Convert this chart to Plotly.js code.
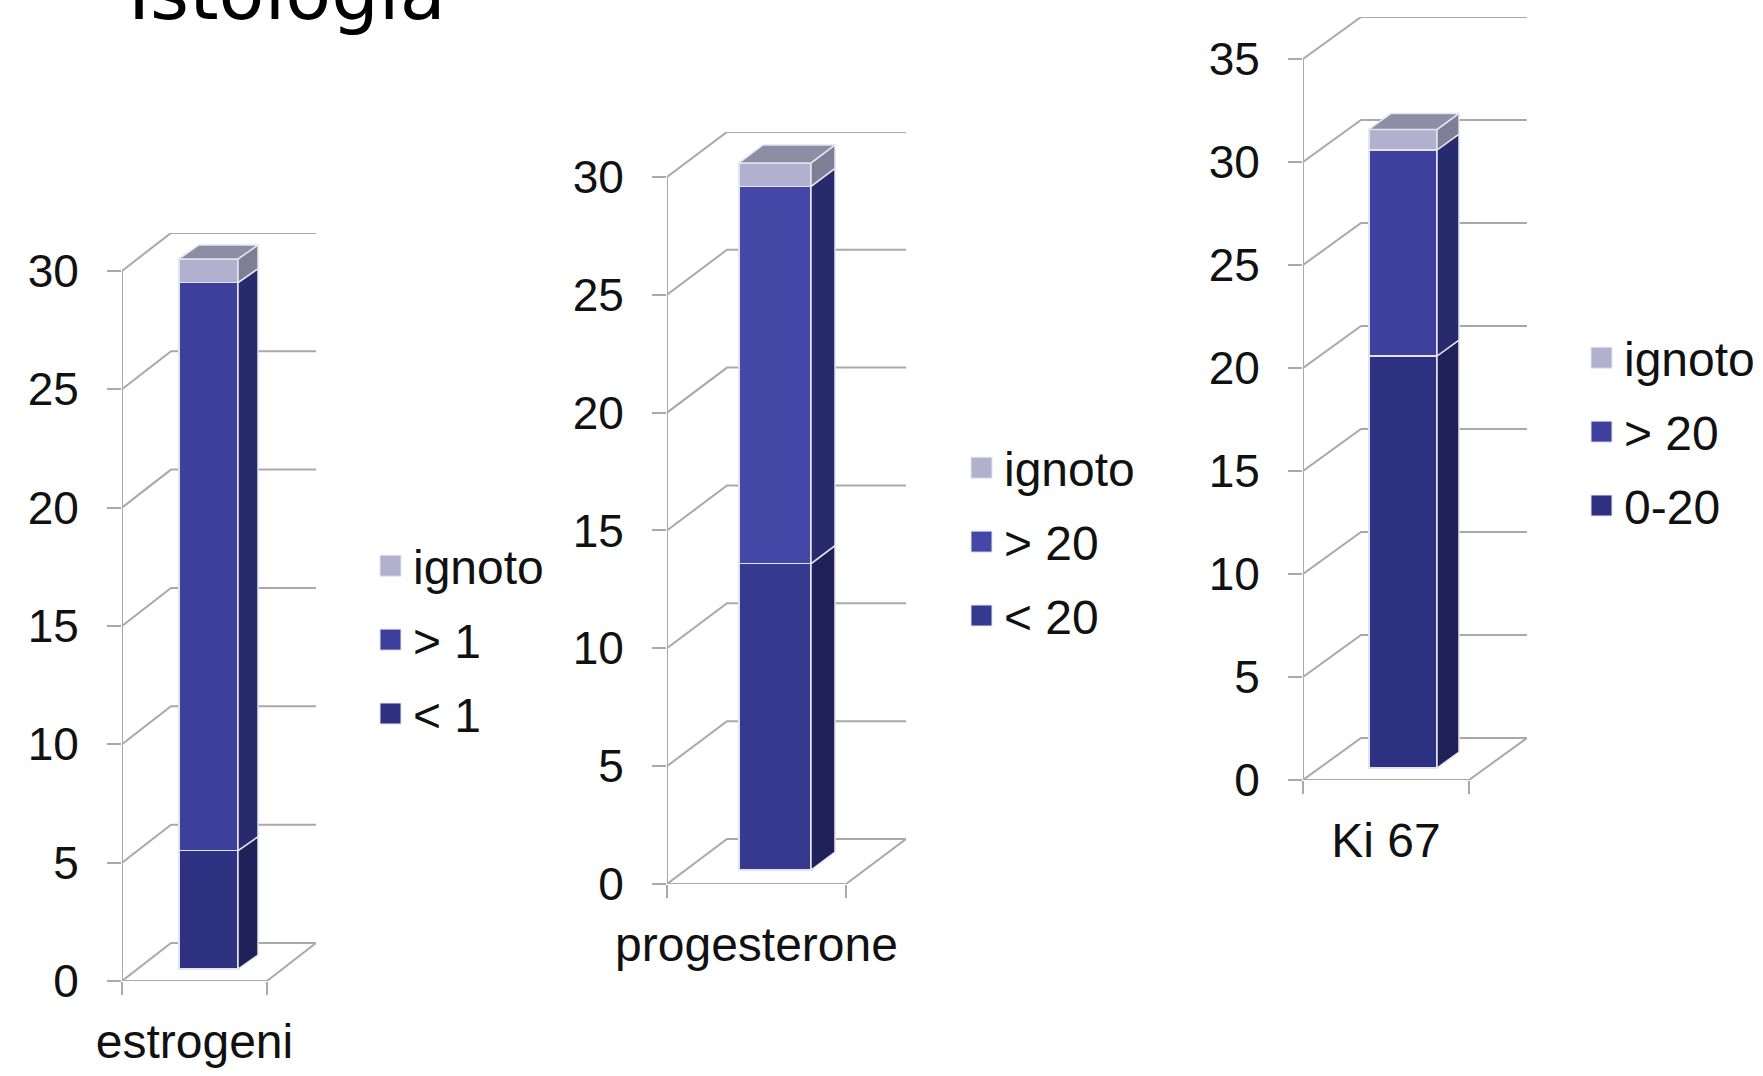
<!DOCTYPE html>
<html>
<head>
<meta charset="utf-8">
<script src="https://cdn.plot.ly/plotly-3.0.1.min.js"></script>
<style>
html, body { margin: 0; padding: 0; background: #ffffff; }
#chart { width: 1763px; height: 1076px; }
</style>
</head>
<body>
<div id="chart"></div>
<script>
// ---------------- data ----------------
const chartTitle = 'Istologia';
const categories = ['estrogeni', 'progesterone', 'Ki 67'];

const estrogeniLabels = ['< 1', '> 1', 'ignoto'];
const estrogeniValues = [5, 24, 1];

const progesteroneLabels = ['< 20', '> 20', 'ignoto'];
const progesteroneValues = [13, 16, 1];

const ki67Labels = ['0-20', '> 20', 'ignoto'];
const ki67Values = [20, 10, 1];

const estrogeniTicks = [0, 5, 10, 15, 20, 25, 30];
const progesteroneTicks = [0, 5, 10, 15, 20, 25, 30];
const ki67Ticks = [0, 5, 10, 15, 20, 25, 30, 35];

// ---------------- styling / geometry (pixels) ----------------
const W = 1763, H = 1076;
const FONT = '"Liberation Sans", Arial, Helvetica, sans-serif';
const GRID = '#a9a9a9';
const EDGE = '#e4e4ee';

const frontColors = [
  ['#2e3182', '#3c3f9c', '#b1b1cf'],
  ['#353a8e', '#4347a6', '#b1b1cf'],
  ['#2e3182', '#3d409c', '#b1b1cf']
];
const sideColors = ['#1f2159', '#272a6d', '#7e7e97'];
const topColor = '#8d8da3';

const geos = [
  { ox: 122, oy: 981, floorW: 145, unit: 23.67, dx: 49, dy: -38, bx0: 179, bx1: 238, lift: 12, sx: 20, sy: -14,
    legX: 373, legY: 528 },
  { ox: 667, oy: 884, floorW: 179, unit: 23.57, dx: 60, dy: -45, bx0: 739, bx1: 811, lift: 14, sx: 24, sy: -18,
    legX: 964, legY: 430 },
  { ox: 1303, oy: 780, floorW: 166, unit: 20.6, dx: 58, dy: -42, bx0: 1369, bx1: 1437, lift: 12, sx: 22, sy: -16,
    legX: 1584, legY: 320 }
];

const seriesLabels = [estrogeniLabels, progesteroneLabels, ki67Labels];
const seriesValues = [estrogeniValues, progesteroneValues, ki67Values];
const tickSets = [estrogeniTicks, progesteroneTicks, ki67Ticks];

const traces = [];
const layout = {
  width: W, height: H,
  margin: { l: 0, r: 0, t: 0, b: 0 },
  paper_bgcolor: '#ffffff', plot_bgcolor: 'rgba(0,0,0,0)',
  barmode: 'stack',
  showlegend: true,
  hovermode: false,
  font: { family: FONT, size: 45, color: '#111111' },
  annotations: [{
    text: chartTitle, xref: 'paper', yref: 'paper',
    x: 127 / W, y: 1 - 38 / H, xanchor: 'left', yanchor: 'bottom',
    showarrow: false, borderpad: 0,
    font: { family: '"DejaVu Sans", sans-serif', size: 75, color: '#000000' }
  }]
};

for (let i = 0; i < 3; i++) {
  const g = geos[i];
  const ticks = tickSets[i];
  const vals = seriesValues[i];
  const labs = seriesLabels[i];
  const ymax = ticks[ticks.length - 1];
  const n = i + 1;
  const xa = n === 1 ? 'x' : 'x' + n;
  const ya = n === 1 ? 'y' : 'y' + n;
  const yb = 'y' + (n + 3);
  const xKey = n === 1 ? 'xaxis' : 'xaxis' + n;
  const yKey = n === 1 ? 'yaxis' : 'yaxis' + n;
  const ybKey = 'yaxis' + (n + 3);
  const legKey = n === 1 ? 'legend' : 'legend' + n;

  const xmax = -0.5 + (g.floorW + g.dx) / g.floorW;
  const ddx = g.dx / g.floorW;
  const ddy = -g.dy / g.unit;
  const ytop = ymax + ddy;
  const liftU = g.lift / g.unit;

  const domTopPx = g.oy - ymax * g.unit + g.dy;
  layout[xKey] = {
    domain: [g.ox / W, (g.ox + g.floorW + g.dx) / W],
    anchor: ya, range: [-0.5, xmax], fixedrange: true,
    showgrid: false, zeroline: false, showline: false,
    tickmode: 'array', tickvals: [0], ticktext: [categories[i]],
    ticks: '', ticklabelstandoff: 28,
    tickfont: { family: FONT, size: 48, color: '#111111' },
    minor: { tickmode: 'array', tickvals: [-0.5, 0.5], ticks: 'outside', ticklen: 13, tickcolor: GRID, tickwidth: 2, showgrid: false }
  };
  layout[yKey] = {
    domain: [1 - g.oy / H, 1 - domTopPx / H],
    anchor: xa, range: [0, ytop], fixedrange: true,
    showgrid: false, zeroline: false, showline: false,
    tickmode: 'array', tickvals: ticks,
    ticks: 'outside', ticklen: 14, tickcolor: GRID, tickwidth: 2,
    ticklabelstandoff: 19,
    tickfont: { family: FONT, size: 46, color: '#111111' }
  };
  layout[ybKey] = {
    overlaying: ya, anchor: xa, range: [-liftU, ytop - liftU], fixedrange: true,
    visible: false
  };
  layout[legKey] = {
    x: g.legX / W, y: 1 - g.legY / H, xanchor: 'left', yanchor: 'top',
    bgcolor: 'rgba(0,0,0,0)', borderwidth: 0,
    traceorder: 'grouped', tracegroupgap: 8.5,
    itemclick: false, itemdoubleclick: false,
    font: { family: FONT, size: 48, color: '#111111' }
  };

  // perspective grid (back wall + floor + front axis)
  const gx = [], gy = [];
  ticks.forEach(v => {
    gx.push(-0.5, -0.5 + ddx, xmax, null);
    gy.push(v, v + ddy, v + ddy, null);
  });
  gx.push(-0.5, 0.5, 0.5 + ddx, null, -0.5, -0.5);
  gy.push(0, 0, ddy, null, 0, ymax);
  traces.push({
    type: 'scatter', mode: 'lines', x: gx, y: gy, xaxis: xa, yaxis: ya,
    line: { color: GRID, width: 2 }, showlegend: false, hoverinfo: 'skip', connectgaps: false
  });

  const bxc = ((g.bx0 + g.bx1) / 2 - g.ox) / g.floorW - 0.5;
  const bw = (g.bx1 - g.bx0) / g.floorW;
  const xr = (g.bx1 - g.ox) / g.floorW - 0.5;
  const xl = (g.bx0 - g.ox) / g.floorW - 0.5;
  const sdx = g.sx / g.floorW;
  const sdy = -g.sy / g.unit;

  let cum = 0;
  vals.forEach((v, k) => {
    traces.push({
      type: 'bar', x: [bxc], y: [v], width: [bw], xaxis: xa, yaxis: yb,
      name: labs[k], legend: legKey, legendgroup: 'g' + n + '_' + k,
      legendrank: 100 * (vals.length - k),
      marker: { color: frontColors[i][k], line: { color: EDGE, width: 1.5 } },
      hoverinfo: 'skip'
    });
    const lo = cum, hi = cum + v;
    traces.push({
      type: 'scatter', mode: 'lines', fill: 'toself', xaxis: xa, yaxis: yb,
      x: [xr, xr + sdx, xr + sdx, xr, xr],
      y: [lo, lo + sdy, hi + sdy, hi, lo],
      fillcolor: sideColors[k], line: { color: EDGE, width: 1.5 },
      showlegend: false, hoverinfo: 'skip'
    });
    cum = hi;
  });
  traces.push({
    type: 'scatter', mode: 'lines', fill: 'toself', xaxis: xa, yaxis: yb,
    x: [xl, xl + sdx, xr + sdx, xr, xl],
    y: [cum, cum + sdy, cum + sdy, cum, cum],
    fillcolor: topColor, line: { color: EDGE, width: 1.5 },
    showlegend: false, hoverinfo: 'skip'
  });
}

Plotly.newPlot('chart', traces, layout, { staticPlot: true, displayModeBar: false }).then(gd => {
  // enlarge the legend swatches to match the reference's square markers
  gd.querySelectorAll('.legendpoints path').forEach(p => {
    p.setAttribute('d', 'M8,10.5H-13V-10.5H8Z');
    p.style.strokeWidth = '1px';
  });
});
</script>
</body>
</html>
